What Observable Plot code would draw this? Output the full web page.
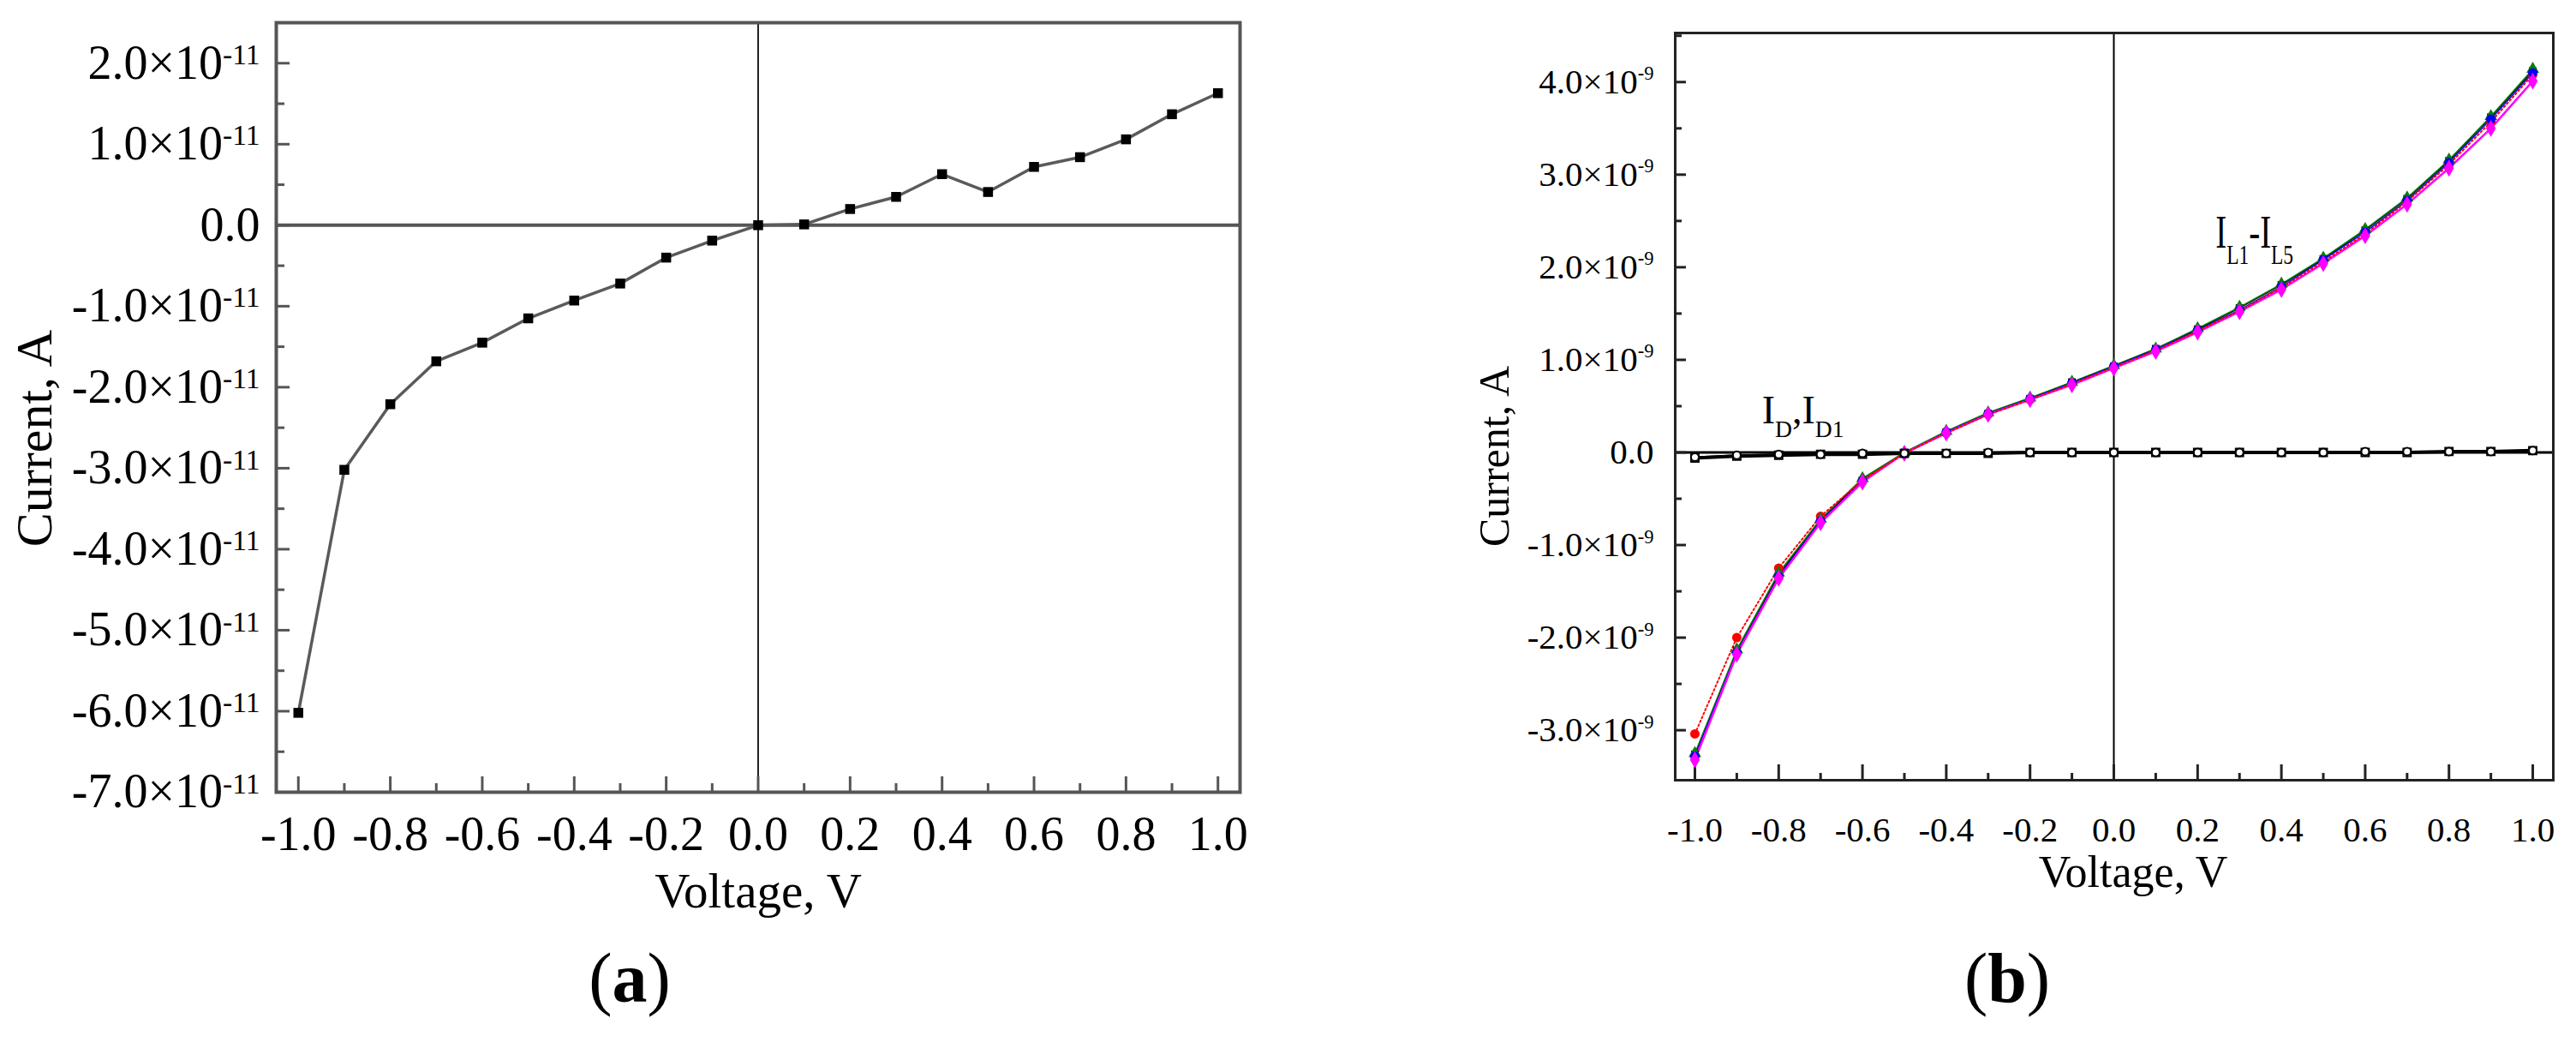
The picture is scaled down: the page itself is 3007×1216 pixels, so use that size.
<!DOCTYPE html>
<html>
<head>
<meta charset="utf-8">
<script src="https://cdn.jsdelivr.net/npm/d3@7"></script>
<script src="https://cdn.jsdelivr.net/npm/@observablehq/plot@0.6"></script>
<style>
html, body { margin: 0; padding: 0; background: #fff; }
#root { position: relative; width: 3007px; height: 1216px; overflow: hidden; background: #fff; }
.panel { position: absolute; top: 0; }
.cap { position: absolute; font-family: "Liberation Serif", serif; font-size: 82px; line-height: 82px; transform: translateX(-50%); color: #000; white-space: nowrap; }
</style>
</head>
<body>
<div id="root">
  <div id="pa" class="panel" style="left:0px"></div>
  <div id="pb" class="panel" style="left:1500px"></div>
  <div class="cap" style="left:735px; top:1101px">(<b>a</b>)</div>
  <div class="cap" style="left:2343px; top:1101px">(<b>b</b>)</div>
</div>
<script>
// ---------- data ----------
const voltage = [-1.0, -0.9, -0.8, -0.7, -0.6, -0.5, -0.4, -0.3, -0.2, -0.1, 0.0, 0.1, 0.2, 0.3, 0.4, 0.5, 0.6, 0.7, 0.8, 0.9, 1.0];

// panel (a): single I-V curve, amperes
const currentA = [-6.02e-11, -3.02e-11, -2.21e-11, -1.68e-11, -1.45e-11, -1.15e-11, -0.93e-11, -0.72e-11, -0.40e-11, -0.19e-11,
                  0.0, 0.01e-11, 0.20e-11, 0.35e-11, 0.63e-11, 0.41e-11, 0.72e-11, 0.84e-11, 1.06e-11, 1.37e-11, 1.63e-11];

// panel (b): dark currents
const ID  = [-0.06e-9, -0.04e-9, -0.03e-9, -0.02e-9, -0.02e-9, -0.01e-9, -0.01e-9, -0.01e-9, 0, 0, 0, 0, 0, 0, 0, 0, 0, 0, 0.01e-9, 0.01e-9, 0.02e-9];
const ID1 = [-0.05e-9, -0.03e-9, -0.02e-9, -0.02e-9, -0.01e-9, -0.01e-9, -0.01e-9, 0, 0, 0, 0, 0, 0, 0, 0, 0, 0.01e-9, 0.01e-9, 0.01e-9, 0.01e-9, 0.02e-9];
// panel (b): light currents IL1..IL5
const IL1 = [-3.26e-9, -2.14e-9, -1.32e-9, -0.73e-9, -0.30e-9, 0.00e-9, 0.22e-9, 0.42e-9, 0.58e-9, 0.76e-9, 0.93e-9, 1.12e-9, 1.33e-9, 1.56e-9, 1.81e-9, 2.09e-9, 2.40e-9, 2.74e-9, 3.15e-9, 3.62e-9, 4.12e-9];
const IL2 = [-3.04e-9, -2.00e-9, -1.25e-9, -0.69e-9, -0.30e-9, -0.01e-9, 0.21e-9, 0.41e-9, 0.57e-9, 0.74e-9, 0.92e-9, 1.10e-9, 1.31e-9, 1.53e-9, 1.78e-9, 2.06e-9, 2.36e-9, 2.71e-9, 3.11e-9, 3.57e-9, 4.08e-9];
const IL3 = [-3.25e-9, -2.13e-9, -1.30e-9, -0.72e-9, -0.28e-9, 0.00e-9, 0.23e-9, 0.43e-9, 0.59e-9, 0.76e-9, 0.94e-9, 1.12e-9, 1.34e-9, 1.57e-9, 1.82e-9, 2.10e-9, 2.41e-9, 2.75e-9, 3.16e-9, 3.63e-9, 4.14e-9];
const IL4 = [-3.28e-9, -2.16e-9, -1.34e-9, -0.74e-9, -0.31e-9, -0.01e-9, 0.22e-9, 0.42e-9, 0.58e-9, 0.75e-9, 0.93e-9, 1.11e-9, 1.32e-9, 1.54e-9, 1.79e-9, 2.08e-9, 2.38e-9, 2.72e-9, 3.13e-9, 3.60e-9, 4.10e-9];
const IL5 = [-3.32e-9, -2.18e-9, -1.36e-9, -0.76e-9, -0.32e-9, -0.01e-9, 0.21e-9, 0.41e-9, 0.57e-9, 0.73e-9, 0.91e-9, 1.09e-9, 1.30e-9, 1.52e-9, 1.76e-9, 2.04e-9, 2.34e-9, 2.68e-9, 3.07e-9, 3.50e-9, 4.01e-9];

// ticks
const xMajor = [-1.0, -0.8, -0.6, -0.4, -0.2, 0.0, 0.2, 0.4, 0.6, 0.8, 1.0];
const xMinor = [-0.9, -0.7, -0.5, -0.3, -0.1, 0.1, 0.3, 0.5, 0.7, 0.9];
const aYMajor = [2e-11, 1e-11, 0, -1e-11, -2e-11, -3e-11, -4e-11, -5e-11, -6e-11, -7e-11];
const aYMinor = [2.5e-11, 1.5e-11, 0.5e-11, -0.5e-11, -1.5e-11, -2.5e-11, -3.5e-11, -4.5e-11, -5.5e-11, -6.5e-11];
const bYMajor = [4e-9, 3e-9, 2e-9, 1e-9, 0, -1e-9, -2e-9, -3e-9];
const bYMinor = [4.5e-9, 3.5e-9, 2.5e-9, 1.5e-9, 0.5e-9, -0.5e-9, -1.5e-9, -2.5e-9];

// labels
const xLabel = "Voltage, V";
const yLabel = "Current, A";
const annLight = "I_{L1}-I_{L5}";
const annDark = "I_{D},I_{D1}";

// ---------- helpers ----------
const FONT = "Liberation Serif";
function expFormat(exp) {
  const s = Math.pow(10, exp);
  return d => Math.abs(d) < s * 1e-6 ? "0.0" : (d / s).toFixed(1) + "×10^{" + exp + "}";
}
function richify(root, opts) {
  root.querySelectorAll("text").forEach(t => {
    const s = t.textContent;
    if (!/[_^]\{/.test(s)) return;
    const fs = parseFloat(getComputedStyle(t).fontSize) || 40;
    while (t.firstChild) t.removeChild(t.firstChild);
    const re = /([_^])\{([^}]*)\}/g;
    let last = 0, shift = 0, m;
    const add = (str, kind) => {
      if (!str) return;
      const ts = document.createElementNS("http://www.w3.org/2000/svg", "tspan");
      let target = 0, size = fs;
      if (kind === "^") { size = fs * opts.supScale; target = -fs * opts.supRaise; }
      if (kind === "_") { size = fs * opts.subScale; target = fs * opts.subDrop; }
      ts.setAttribute("font-size", size);
      if (target !== shift) ts.setAttribute("dy", target - shift);
      shift = target;
      ts.textContent = str;
      t.appendChild(ts);
    };
    while ((m = re.exec(s))) { add(s.slice(last, m.index), ""); add(m[2], m[1]); last = re.lastIndex; }
    add(s.slice(last), "");
    if (opts.condense && s === opts.condense.text) {
      t.setAttribute("transform", (t.getAttribute("transform") || "") + ` scale(${opts.condense.k},1)`);
    }
  });
}

// ---------- panel (a) ----------
{
  const W = 1500, H = 1100, mL = 322, mR = 53, mT = 26, mB = 176;
  const fw = W - mL - mR, fh = H - mT - mB;
  const rows = voltage.map((v, i) => ({v, c: currentA[i]}));
  const frameColor = "#555";
  const plot = Plot.plot({
    width: W, height: H,
    marginLeft: mL, marginRight: mR, marginTop: mT, marginBottom: mB,
    x: {domain: [-1.048, 1.048]},
    y: {domain: [-7e-11, 2.5e-11]},
    style: {fontFamily: FONT, fontSize: "56px", color: "#000", background: "#fff", overflow: "visible"},
    marks: [
      Plot.ruleY([0], {stroke: frameColor, strokeWidth: 4}),
      Plot.ruleX([0], {stroke: "#222", strokeWidth: 2}),
      Plot.tickY(aYMajor, {y: d => d, stroke: frameColor, strokeWidth: 3, insetRight: fw - 16}),
      Plot.tickY(aYMinor, {y: d => d, stroke: frameColor, strokeWidth: 3, insetRight: fw - 10}),
      Plot.tickX(xMajor, {x: d => d, stroke: frameColor, strokeWidth: 3, insetTop: fh - 18}),
      Plot.tickX(xMinor, {x: d => d, stroke: frameColor, strokeWidth: 3, insetTop: fh - 10}),
      Plot.line(rows, {x: "v", y: "c", stroke: "#5a5a5a", strokeWidth: 3.5}),
      Plot.dot(rows, {x: "v", y: "c", symbol: "square", r: 6.5, fill: "#000", stroke: "none"}),
      Plot.frame({stroke: frameColor, strokeWidth: 4}),
      Plot.axisY({ticks: aYMajor, tickSize: 0, tickPadding: 19, tickFormat: expFormat(-11), fontSize: 56, label: null}),
      Plot.axisX({ticks: xMajor, tickSize: 0, tickPadding: 28, tickFormat: d => d.toFixed(1), fontSize: 56, label: null}),
      Plot.text([yLabel], {frameAnchor: "left", textAnchor: "middle", lineAnchor: "middle", rotate: -90, dx: -282, dy: 36, fontSize: 60, fill: "#000"}),
      Plot.text([xLabel], {frameAnchor: "bottom", textAnchor: "middle", lineAnchor: "middle", dy: 116, fontSize: 57, fill: "#000"})
    ]
  });
  document.getElementById("pa").appendChild(plot);
  richify(plot, {supScale: 0.6, supRaise: 0.3, subScale: 0.6, subDrop: 0.3});
}

// ---------- panel (b) ----------
{
  const W = 1507, H = 1100, mL = 455, mR = 27, mT = 38, mB = 190;
  const fw = W - mL - mR, fh = H - mT - mB;
  const frameColor = "#222";
  const mk = arr => voltage.map((v, i) => ({v, c: arr[i]}));
  const s1 = {data: mk(IL1), color: "#000000", symbol: "square"};
  const s2 = {data: mk(IL2), color: "#ff0000", symbol: "circle"};
  const s3 = {data: mk(IL3), color: "#008000", symbol: "triangle"};
  const s4 = {data: mk(IL4), color: "#0000ff", symbol: "circle"};
  const s5 = {data: mk(IL5), color: "#ff00ff", symbol: "diamond"};
  const lineOpt = (s, w, dash) => Plot.line(s.data, {x: "v", y: "c", stroke: s.color, strokeWidth: w, strokeDasharray: dash});
  const dotOpt = (s, r) => Plot.dot(s.data, {x: "v", y: "c", symbol: s.symbol, r, fill: s.color, stroke: "none"});
  const plot = Plot.plot({
    width: W, height: H,
    marginLeft: mL, marginRight: mR, marginTop: mT, marginBottom: mB,
    x: {domain: [-1.047, 1.049]},
    y: {domain: [-3.54e-9, 4.53e-9]},
    style: {fontFamily: FONT, fontSize: "41px", color: "#000", background: "#fff", overflow: "visible"},
    marks: [
      Plot.ruleY([0], {stroke: "#000", strokeWidth: 3}),
      Plot.ruleX([0], {stroke: "#000", strokeWidth: 2}),
      Plot.tickY(bYMajor, {y: d => d, stroke: frameColor, strokeWidth: 3, insetRight: fw - 13}),
      Plot.tickY(bYMinor, {y: d => d, stroke: frameColor, strokeWidth: 3, insetRight: fw - 8}),
      Plot.tickX(xMajor, {x: d => d, stroke: frameColor, strokeWidth: 3, insetTop: fh - 18}),
      Plot.tickX(xMinor, {x: d => d, stroke: frameColor, strokeWidth: 3, insetTop: fh - 8}),
      Plot.line(mk(ID), {x: "v", y: "c", stroke: "#000", strokeWidth: 4}),
      Plot.line(mk(ID1), {x: "v", y: "c", stroke: "#000", strokeWidth: 2}),
      lineOpt(s1, 1.5, null),
      lineOpt(s3, 1.5, null),
      lineOpt(s4, 1.5, null),
      lineOpt(s5, 2.5, null),
      lineOpt(s2, 2, "2,3"),
      dotOpt(s1, 5),
      dotOpt(s2, 5.5),
      dotOpt(s3, 5.5),
      dotOpt(s4, 5.5),
      dotOpt(s5, 6),
      Plot.dot(mk(ID), {x: "v", y: "c", symbol: "square", r: 5, fill: "#fff", stroke: "#000", strokeWidth: 2}),
      Plot.dot(mk(ID1), {x: "v", y: "c", symbol: "circle", r: 4.5, fill: "#fff", stroke: "#000", strokeWidth: 2}),
      Plot.frame({stroke: frameColor, strokeWidth: 3}),
      Plot.axisY({ticks: bYMajor, tickSize: 0, tickPadding: 25, tickFormat: expFormat(-9), fontSize: 41, label: null}),
      Plot.axisX({ticks: xMajor, tickSize: 0, tickPadding: 42, tickFormat: d => d.toFixed(1), fontSize: 41, label: null}),
      Plot.text([yLabel], {frameAnchor: "left", textAnchor: "middle", lineAnchor: "middle", rotate: -90, dx: -211, dy: 58, fontSize: 50, fill: "#000"}),
      Plot.text([xLabel], {frameAnchor: "bottom", textAnchor: "middle", lineAnchor: "middle", dx: 22, dy: 108, fontSize: 52, fill: "#000"}),
      Plot.text([{x: 0.243, y: 2.21e-9, t: annLight}], {x: "x", y: "y", text: "t", textAnchor: "start", lineAnchor: "bottom", fontSize: 54, fill: "#000"}),
      Plot.text([{x: -0.84, y: 0.31e-9, t: annDark}], {x: "x", y: "y", text: "t", textAnchor: "start", lineAnchor: "bottom", fontSize: 46, fill: "#000"})
    ]
  });
  document.getElementById("pb").appendChild(plot);
  richify(plot, {supScale: 0.55, supRaise: 0.38, subScale: 0.6, subDrop: 0.34, condense: {text: annLight, k: 0.72}});
}
</script>
</body>
</html>
